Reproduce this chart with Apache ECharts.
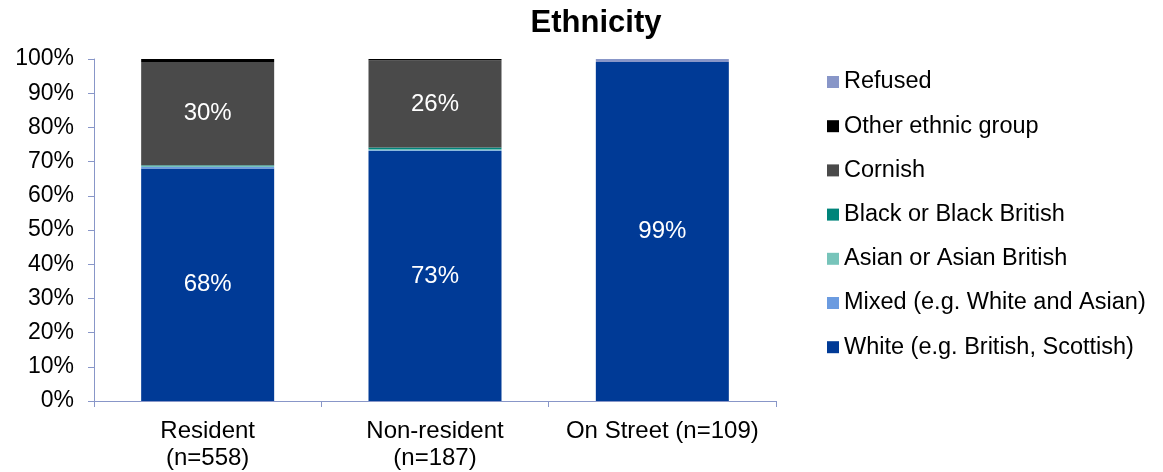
<!DOCTYPE html>
<html>
<head>
<meta charset="utf-8">
<script src="https://cdn.jsdelivr.net/npm/echarts@6/dist/echarts.min.js"></script>
<style>
  html, body { margin: 0; padding: 0; background: #ffffff; }
  #chart { width: 1163px; height: 472px; }
</style>
</head>
<body>
<div id="chart"></div>
<script>
// Respondent groups along the x axis
const categories = ['Resident\n(n=558)', 'Non-resident\n(n=187)', 'On Street (n=109)'];

// Share of each ethnic group per respondent group (%)
const white   = [68.0, 73.1, 99.1];
const mixed   = [0.4, 0.2, 0];
const asian   = [0.4, 0.3, 0];
const black   = [0.1, 0.5, 0];
const cornish = [30.2, 25.5, 0];
const other   = [0.9, 0.4, 0];
const refused = [0, 0, 0.9];

const yTicks = [0, 10, 20, 30, 40, 50, 60, 70, 80, 90, 100];

const FONT = '"Liberation Sans", Arial, sans-serif';

function seg(name, data, color, showLabel) {
  return {
    name: name,
    type: 'bar',
    stack: 'total',
    data: data,
    barWidth: 133,
    itemStyle: { color: color },
    label: {
      show: showLabel,
      position: 'inside',
      color: '#ffffff',
      fontFamily: FONT,
      fontSize: 24,
      formatter: p => (p.value >= 5 ? Math.round(p.value) + '%' : '')
    },
    emphasis: { disabled: true }
  };
}

const chart = echarts.init(document.getElementById('chart'), null, { renderer: 'canvas' });

chart.setOption({
  animation: false,
  backgroundColor: '#ffffff',
  title: {
    text: 'Ethnicity',
    left: 596,
    textAlign: 'center',
    top: 8,
    padding: 0,
    textStyle: { fontFamily: FONT, fontSize: 31, fontWeight: 'bold', color: '#000000' }
  },
  grid: { left: 94, right: 387, top: 59, bottom: 70, containLabel: false },
  legend: {
    orient: 'vertical',
    left: 827,
    top: 70,
    padding: 0,
    itemWidth: 12,
    itemHeight: 12,
    itemGap: 20.2,
    icon: 'rect',
    textStyle: { fontFamily: FONT, fontSize: 23.5, color: '#000000', lineHeight: 24 },
    data: ['Refused', 'Other ethnic group', 'Cornish', 'Black or Black British',
           'Asian or Asian British', 'Mixed (e.g. White and Asian)', 'White (e.g. British, Scottish)']
  },
  xAxis: {
    type: 'category',
    data: categories,
    axisLine: { lineStyle: { color: '#8896C8', width: 1 } },
    axisTick: { show: true, alignWithLabel: false, length: 6, lineStyle: { color: '#8896C8' } },
    axisLabel: {
      interval: 0,
      hideOverlap: false,
      fontFamily: FONT, fontSize: 24, color: '#000000', lineHeight: 27, margin: 17
    }
  },
  yAxis: {
    type: 'value',
    min: yTicks[0],
    max: yTicks[yTicks.length - 1],
    interval: 10,
    axisLine: { show: true, lineStyle: { color: '#8896C8', width: 1 } },
    axisTick: { show: true, length: 6, lineStyle: { color: '#8896C8' } },
    splitLine: { show: false },
    axisLabel: { fontFamily: FONT, fontSize: 23, color: '#000000', margin: 20, formatter: '{value}%' }
  },
  series: [
    seg('White (e.g. British, Scottish)', white, '#003A96', true),
    seg('Mixed (e.g. White and Asian)', mixed, '#6B9BE0', false),
    seg('Asian or Asian British', asian, '#77C4BA', false),
    seg('Black or Black British', black, '#00847A', false),
    seg('Cornish', cornish, '#4A4A4A', true),
    seg('Other ethnic group', other, '#000000', false),
    seg('Refused', refused, '#8896C8', false)
  ]
});
</script>
</body>
</html>
